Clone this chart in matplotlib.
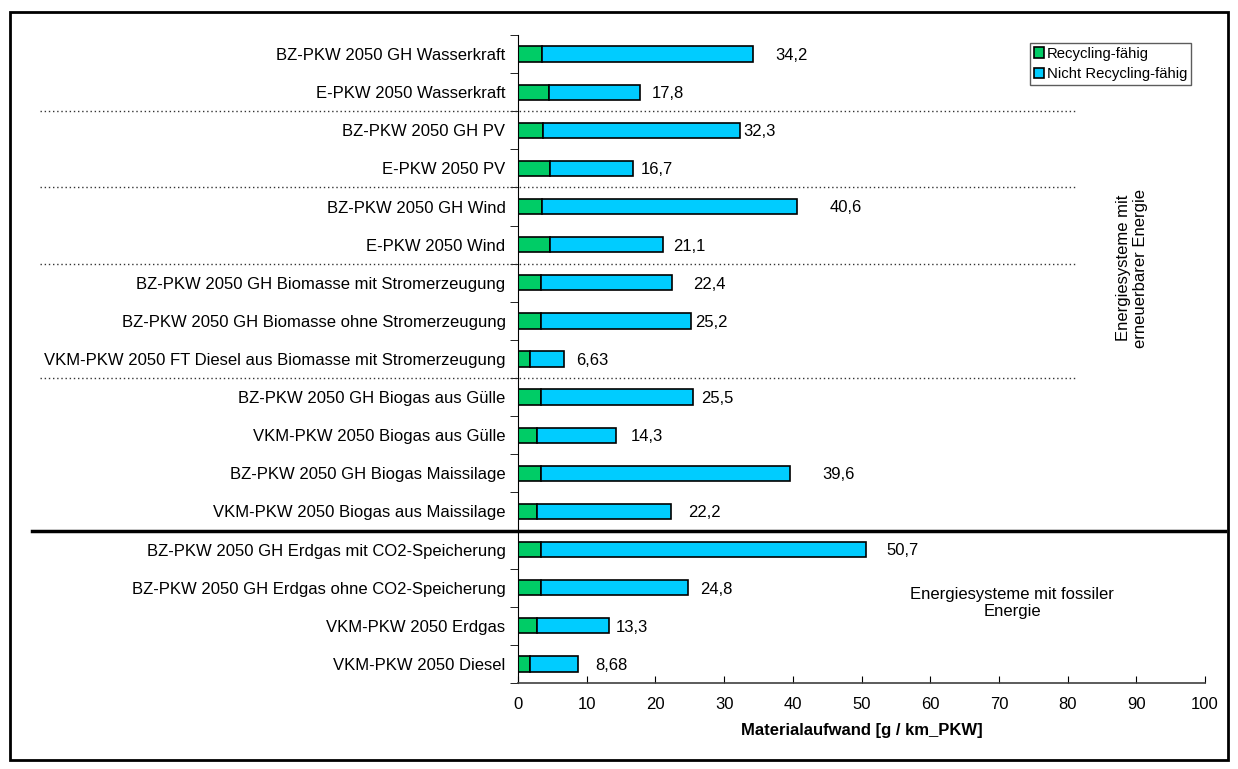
import matplotlib.pyplot as plt
import matplotlib.transforms as mtransforms
from matplotlib.patches import Rectangle
from matplotlib.lines import Line2D

plt.rcParams['font.family'] = ['Liberation Sans', 'DejaVu Sans']

# Daten (von oben nach unten)
kategorien = [
    'BZ-PKW 2050 GH Wasserkraft',
    'E-PKW 2050 Wasserkraft',
    'BZ-PKW 2050 GH PV',
    'E-PKW 2050 PV',
    'BZ-PKW 2050 GH Wind',
    'E-PKW 2050 Wind',
    'BZ-PKW 2050 GH Biomasse mit Stromerzeugung',
    'BZ-PKW 2050 GH Biomasse ohne Stromerzeugung',
    'VKM-PKW 2050 FT Diesel aus Biomasse mit Stromerzeugung',
    'BZ-PKW 2050 GH Biogas aus Gülle',
    'VKM-PKW 2050 Biogas aus Gülle',
    'BZ-PKW 2050 GH Biogas Maissilage',
    'VKM-PKW 2050 Biogas aus Maissilage',
    'BZ-PKW 2050 GH Erdgas mit CO2-Speicherung',
    'BZ-PKW 2050 GH Erdgas ohne CO2-Speicherung',
    'VKM-PKW 2050 Erdgas',
    'VKM-PKW 2050 Diesel',
]
gesamt = [34.2, 17.8, 32.3, 16.7, 40.6, 21.1, 22.4, 25.2, 6.63,
          25.5, 14.3, 39.6, 22.2, 50.7, 24.8, 13.3, 8.68]
recycling = [3.5, 4.5, 3.6, 4.6, 3.5, 4.6, 3.4, 3.4, 1.8,
             3.4, 2.7, 3.4, 2.7, 3.4, 3.4, 2.7, 1.8]
nicht_recycling = [g - r for g, r in zip(gesamt, recycling)]

# Abstand der Beschriftung zum Balkenende (Pixel)
label_offset_px = [22, 11, 3, 8, 33, 10, 21, 4, 13, 8, 15, 32, 18, 20, 12, 6, 18]

W, H = 1238, 769
fig = plt.figure(figsize=(W / 100, H / 100), dpi=100)
ax = fig.add_axes([518 / W, 1 - 683 / H, (1205 - 518) / W, (683 - 35) / H])

y = list(range(len(kategorien)))
ax.barh(y, recycling, height=0.4, color='#00CC66', edgecolor='black', linewidth=1.2,
        label='Recycling-fähig')
ax.barh(y, nicht_recycling, left=recycling, height=0.4, color='#00CCFF',
        edgecolor='black', linewidth=1.2, label='Nicht Recycling-fähig')

for yi, g, off in zip(y, gesamt, label_offset_px):
    ax.annotate(f'{g:.3g}'.replace('.', ','), xy=(g, yi), xytext=(off * 0.72, -1),
                textcoords='offset points', ha='left', va='center', fontsize=12)

ax.set_ylim(len(kategorien) - 0.5, -0.5)
ax.set_xlim(0, 100)
ax.set_xticks(range(0, 101, 10))
ax.set_yticks(y)
ax.set_yticklabels(kategorien, fontsize=12)
ax.tick_params(axis='y', length=0, pad=9)
ax.set_yticks([i + 0.5 for i in range(-1, len(kategorien))], minor=True)
ax.tick_params(axis='y', which='minor', length=6, direction='out', color='black')
ax.tick_params(axis='x', length=5, direction='in', labelsize=12, pad=10)
for s in ['top', 'right']:
    ax.spines[s].set_visible(False)
ax.spines['left'].set_color('black')
ax.spines['bottom'].set_color('#404040')
ax.spines['bottom'].set_linewidth(1.2)
ax.set_xlabel('Materialaufwand [g / km_PKW]', fontsize=12, fontweight='bold', labelpad=8)

# Trennlinien
trans = mtransforms.blended_transform_factory(fig.transFigure, ax.transData)
for b in [1.5, 3.5, 5.5, 8.5]:
    fig.add_artist(Line2D([40 / W, 1075 / W], [b, b], transform=trans,
                          color='#333333', linestyle=(0, (1, 2)), linewidth=1))
fig.add_artist(Line2D([32 / W, 1225 / W], [12.5, 12.5], transform=trans,
                      color='black', linewidth=2.5))

fig.text(1132 / W, 1 - 268 / H, 'Energiesysteme mit\nerneuerbarer Energie',
         rotation=90, ha='center', va='center', fontsize=12, linespacing=1.1)
fig.text(1012 / W, 1 - 603 / H, 'Energiesysteme mit fossiler\nEnergie',
         ha='center', va='center', fontsize=12, linespacing=1.1)

leg = fig.legend(loc='upper right', bbox_to_anchor=(1191 / W, 1 - 43 / H), fontsize=10.7,
                 frameon=True, fancybox=False, edgecolor='#333333', borderpad=0.25,
                 handlelength=0.7, handleheight=0.7, handletextpad=0.2, labelspacing=0.45,
                 borderaxespad=0)
leg.get_frame().set_linewidth(1)

fig.add_artist(Rectangle((10 / W, 1 - 760 / H), (1228 - 10) / W, (760 - 12) / H,
                         transform=fig.transFigure, fill=False, edgecolor='black',
                         linewidth=2))

fig.savefig('out.png', dpi=100)
